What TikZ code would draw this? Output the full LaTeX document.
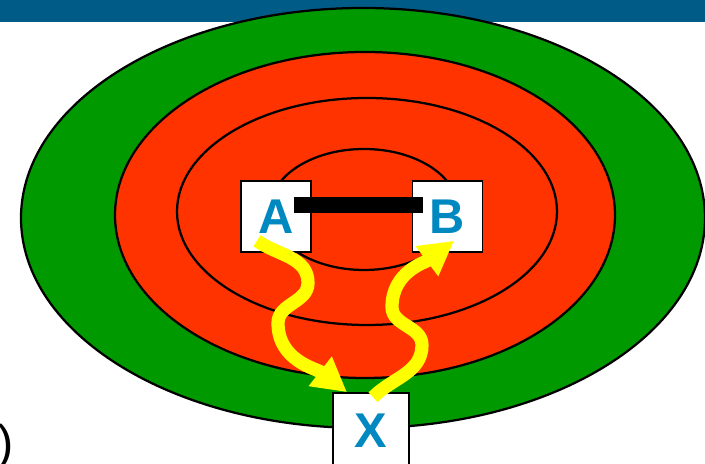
\documentclass[tikz,border=0pt]{standalone}
\usepackage{fontspec}
\setmainfont{Liberation Sans}
\usepackage{tikz}
\usetikzlibrary{arrows.meta,positioning,calc}
\definecolor{band}{RGB}{0,92,135}
\definecolor{grn}{RGB}{0,153,0}
\definecolor{hot}{RGB}{255,51,0}
\definecolor{lbl}{RGB}{0,136,192}
\definecolor{glow}{RGB}{255,255,0}
\tikzset{
  ring/.style={draw=black,line width=1.6pt},
  box/.style={draw=black,fill=white,line width=1.1pt,inner sep=0pt,
    minimum width=1.75cm,minimum height=1.775cm,
    font=\fontsize{34.7}{40}\selectfont\bfseries,text=lbl},
  link/.style={line width=0.4cm,black},
  hop/.style={-{Triangle[length=0.85cm,width=0.88cm]},line width=0.33cm,glow},
}

\begin{document}
\begin{tikzpicture}[x=0.025cm,y=0.025cm]
\useasboundingbox (0,0) rectangle (705,464);
\clip (0,0) rectangle (705,464);
% header band
\fill[band] (0,442) rectangle (705,464);
% nested rings
\draw[ring,fill=grn] (363,246) ellipse [x radius=342,y radius=210];
\draw[ring,fill=hot] (365,249) ellipse [x radius=250,y radius=163];
\draw[ring,fill=hot] (367,252.5) ellipse [x radius=190,y radius=113.5];
\draw[ring,fill=hot] (364,254.5) ellipse [x radius=94,y radius=60.5];
% boxes
\node[box] (A) at (276,247.5) {A};
\node[box,right=2.5cm of A] (B) {B};
\node[box,minimum width=1.9cm,minimum height=1.9cm] (X) at (371,33) {X};
\draw[link] ($(A.east)+(-18,11.5)$) -- ($(B.west)+(11,11.5)$);
% yellow hops
\draw[hop] ($(A.south)+(-19,12)$) to[out=-35,in=90] (308,181)
  to[out=-90,in=90] (278,141) to[out=-90,in=142] ($(X.north)+(-24,0)$);
\draw[hop] ($(X.north)+(2,-5)$) to[out=45,in=-90] (422,119)
  to[out=90,in=-90] (392,157) to[out=90,in=217] ($(B.south)+(6.5,12)$);
\node[anchor=base west,inner sep=0pt,font=\fontsize{34.7}{40}\selectfont]
  (paren) at (-3,4) {)};
\end{tikzpicture}
\end{document}
